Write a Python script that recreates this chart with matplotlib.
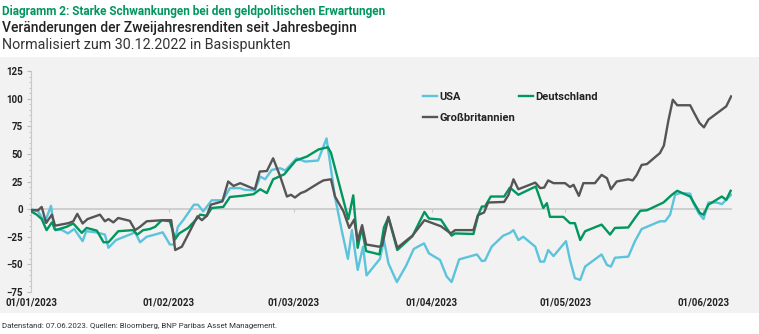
import numpy as np
import matplotlib
matplotlib.use("Agg")
import matplotlib.pyplot as plt
from matplotlib.patches import Rectangle

# days since 01/01/2023 and values in basis points
usa_day = [0, 1.6, 3.1, 4.5, 5.2, 7, 8.3, 9.7, 11.6, 12.4, 14.6, 16.6, 17.4, 19.1, 22.2, 23.4,
           24.5, 26, 27.9, 29.6, 31.2, 32.1, 33, 34.2, 36.6, 37.5, 38.7, 40.6, 43.1, 44.7, 47,
           48, 50.3, 51.5, 52.6, 54.1, 56, 57.1, 59.7, 61.6, 64.5, 66.4, 68.3, 69.8, 71.2,
           72.1, 73.4, 74.6, 75.4, 78.4, 79.3, 80.3, 82.2, 84.3, 86, 88.3, 89.4, 91.9, 93.4,
           94.5, 96.2, 100.2, 101.3, 102, 103.5, 106.1, 107.6, 108.4, 109.5, 110.6, 113.3,
           114.4, 115.3, 116.2, 117.4, 120.2, 121.1, 122.2, 123.4, 124.5, 128.2, 129.4, 130.3,
           131.2, 134.2, 135.7, 137.2, 139.8, 141.3, 142.5, 143.6, 144.7, 145.8, 148.1, 148.8,
           150, 151.1, 152.2, 154.1, 155.2, 156.2, 157.3]
usa_val = [0, -2, -12, 3, -18, -19, -22, -18, -29, -20, -21, -23, -35, -28, -23, -21,
           -30, -25, -23, -21, -32, -32, -16, -10, 4, 4, -2, 8, 8, 19, 19,
           17.5, 17, 29.5, 27, 35.5, 37, 35, 46, 43, 44, 64, 11, -19, -45,
           -19, -55, -34, -60, -45, -28, -49, -66, -51, -36, -31, -40, -46, -61,
           -66, -45.5, -41, -47, -46.5, -34, -24, -21.5, -19, -28, -25, -34,
           -47.5, -47.5, -37, -42.5, -29, -46, -62.5, -64, -52, -41, -50.5, -52,
           -44, -43, -29, -18, -13.6, -11, -11, -5, 13, 14.5, 14, 5.5,
           -3.6, -9, 6, 6, 4.5, 8.4, 13]

de_day = [0, 1.3, 2.4, 3.5, 4.7, 5.5, 8, 9.5, 11.4, 12.5, 14.8, 16.3, 17.4, 19.6, 22.9, 23.9,
          25.2, 26.7, 27.9, 29.4, 31.2, 32.4, 33.3, 35.3, 37.2, 38, 39.5, 40.6, 43.2, 44.7,
          47.3, 50, 51.5, 53, 54.4, 56.9, 59.5, 62, 64.6, 66.7, 67.4, 71.3, 72.4, 73.4, 74.3,
          75.3, 78.3, 79.3, 80.3, 82.3, 85.7, 88.4, 89.4, 92.1, 94.5, 95.3, 99.4, 100.5,
          101.3, 102, 103.3, 106.3, 107.6, 109.5, 113.4, 115.1, 115.9, 116.6, 119.6, 121.1,
          122.2, 123.4, 124.5, 128.2, 130.1, 131.2, 134.2, 135.7, 136.9, 138.4, 142.1, 144,
          145.2, 148.1, 150.3, 151.1, 152.2, 155.2, 156.2, 157.2]
de_val = [-2, -5, -9, -19, -12, -19, -16, -13, -21.5, -17, -19.5, -30, -30, -20, -19, -23,
          -19, -18, -16, -10, -11, -27, -22, -17, -9, -5, -6, 1, 2, 11,
          12, 13.5, 18, 14.5, 27, 31.5, 44, 47.6, 54, 56, 51, -9, 12.5, -35, -17,
          -38, -41, -16.5, -7.5, -37, -24.5, -2.5, -8.5, -9.5, -24, -22, -22.5, -5,
          2.4, 2.4, 11.4, 11.4, 19.5, 13, 20.5, 1, 5.4, -7, -7, -12.7,
          -12.7, -28, -20, -14, -23, -17, -16.6, -8, -1.5, -1, 6, 13,
          16.6, 11.4, -3.6, -5, 4, 11.4, 8.4, 16.6]

gb_day = [0, 1.6, 2.4, 3.4, 4.7, 5.4, 8.4, 9.5, 10.4, 11.6, 12.7, 15.5, 16.6, 17.4, 18.5,
          19.6, 22.2, 23.4, 24.5, 26, 29.6, 31.5, 32.4, 33.9, 35.3, 37.4, 38.4, 39.5, 40.4,
          43, 44.3, 45.5, 47, 50.3, 51.4, 53, 54.4, 56, 57.5, 58.4, 59.3, 60.6, 61.6, 64.6,
          65.7, 67.4, 68.3, 70.2, 71.5, 72.6, 73.4, 74.4, 75.3, 78.2, 78.9, 80.3, 82.3, 85.7,
          88.4, 92.1, 94.3, 95.3, 99.4, 100.4, 101.8, 102.7, 106.3, 107.3, 108.4, 109.5,
          113.3, 114.4, 115.3, 116.2, 117.4, 120, 121.1, 121.9, 123.1, 124.1, 126.7, 128.2,
          129.4, 130.3, 131.6, 134.2, 135.2, 136.1, 137.2, 138.4, 139.8, 141.3, 142.2, 143.2,
          144.2, 145.2, 148.1, 149, 150.2, 151.2, 152.2, 156.2, 157.3]
gb_val = [-1, -1, 2, -12.5, -5, -15, -12.7, -11, -4.3, -13, -9, -5, -11, -9, -12,
          -8, -10.6, -19, -16, -11, -10, -10, -37, -34, -23, -6.5, -10, -6, 4,
          7, 25, 21, 23.5, 18, 34, 34.5, 46, 29.5, 11.4, 13, 10.5, 14.5, 16, 23.5,
          26, 27, 11.4, -2, -17, -9.5, -28.5, -14.5, -32, -34, -33, -7, -35, -24,
          -10, -15.5, -22, -19, -19, -5.5, -3, 6, 6.5, 13, 27, 18,
          24, 19, 19.5, 26, 23.5, 23.5, 20, 22, 12, 23.5, 23.5, 31,
          28, 18, 25, 27, 26, 31, 40, 40.8, 45.6, 50.7, 57.6, 80,
          99, 94, 94, 87, 78, 74, 81, 93, 102]

month_day = [0, 31, 59, 90, 120, 151]
month_labels = ["01/01/2023", "01/02/2023", "01/03/2023", "01/04/2023", "01/05/2023", "01/06/2023"]
y_ticks = [-75, -50, -25, 0, 25, 50, 75, 100, 125]

plt.rcParams["font.family"] = ["Roboto", "DejaVu Sans"]

c_usa = "#5cc3dc"
c_de = "#00965e"
c_gb = "#555555"
c_text = "#222222"

fig = plt.figure(figsize=(7.59, 3.34), dpi=100)
fig.patch.set_facecolor("white")
# grey panel behind the chart
fig.patches.append(Rectangle((0, 21 / 334), 1, 256 / 334, transform=fig.transFigure,
                             facecolor="#f2f2f2", edgecolor="none", zorder=-5))

ax = fig.add_axes([31 / 759, 42 / 334, 701 / 759, 221 / 334])
ax.set_facecolor("none")

ax.axhline(0, color="#c8c8c8", lw=1.2, zorder=1)
ax.vlines(month_day[1:], -2.5, 0, color="#c8c8c8", lw=0.8, zorder=1)

ax.plot(usa_day, usa_val, color=c_usa, lw=1.7, label="USA", zorder=3)
ax.plot(gb_day, gb_val, color=c_gb, lw=1.7, label="Großbritannien", zorder=4)
ax.plot(de_day, de_val, color=c_de, lw=1.7, label="Deutschland", zorder=3)

ax.set_xlim(0, 157.5)
ax.set_ylim(-75, 125)
ax.set_yticks(y_ticks)
ax.set_yticks(np.arange(-75, 126, 5), minor=True)
ax.set_xticks(month_day)
ax.set_xticklabels(month_labels, fontsize=7, fontweight="bold", color=c_text)
ax.tick_params(axis="x", length=0, pad=4)
ax.tick_params(axis="y", which="major", length=3, color="#bbbbbb", labelsize=7,
               labelcolor=c_text, pad=3)
ax.tick_params(axis="y", which="minor", length=1.5, color="#bbbbbb")
for lab in ax.get_yticklabels():
    lab.set_fontweight("bold")

for s in ["top", "right", "bottom"]:
    ax.spines[s].set_visible(False)
ax.spines["left"].set_color("#c8c8c8")
ax.spines["left"].set_linewidth(0.8)

leg = ax.legend(loc="upper left", bbox_to_anchor=(0.545, 0.95), ncol=2, frameon=False,
                handlelength=1.3, handletextpad=0.2, columnspacing=0.3, labelspacing=1.0,
                prop={"size": 8, "weight": "bold"})
for t in leg.get_texts():
    t.set_color(c_text)

fig.text(0.002, 1 - 11 / 334, "Diagramm 2: Starke Schwankungen bei den geldpolitischen Erwartungen",
         fontsize=8.5, fontweight="bold", color=c_de, va="center")
fig.text(0.002, 1 - 28 / 334, "Veränderungen der Zweijahresrenditen seit Jahresbeginn",
         fontsize=10, fontweight=500, color=c_text, va="center")
fig.text(0.002, 1 - 45 / 334, "Normalisiert zum 30.12.2022 in Basispunkten",
         fontsize=10.3, color="#333333", va="center")
fig.text(0.002, 1 - 326 / 334, "Datenstand: 07.06.2023. Quellen: Bloomberg, BNP Paribas Asset Management.",
         fontsize=5.65, color="#333333", va="center")

fig.savefig("out.png", dpi=100)
